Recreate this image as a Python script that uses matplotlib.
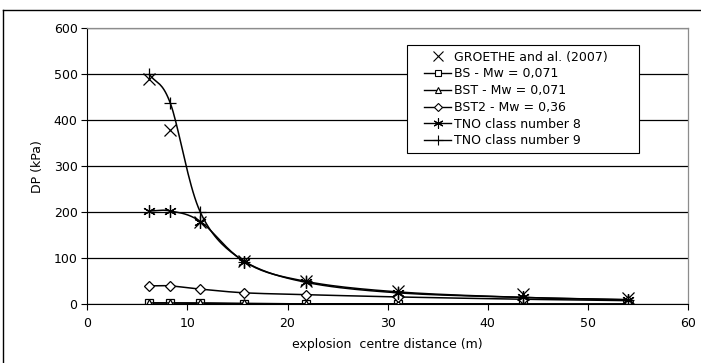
import numpy as np
import matplotlib
matplotlib.use("agg")
import matplotlib.pyplot as plt
from matplotlib.lines import Line2D
from matplotlib.legend_handler import HandlerLine2D

plt.rcParams['font.family'] = ['DejaVu Sans']

# explosion centre distance (m)
distance = [6.2, 8.3, 11.3, 15.7, 21.8, 31.0, 43.5, 54.0]

# DP (kPa)
groethe = [490, 378, 180, 95, 50, 28, 22, 13]
bs = [3, 3, 2, 1, 1, 1, 0.5, 0.5]
bst = [3, 3, 3, 2, 1, 1, 0.5, 0.5]
bst2 = [40, 40, 33, 25, 21, 16, 11, 8]
tno8 = [203, 203, 180, 93, 48, 25, 15, 10]
tno9 = [500, 437, 200, 93, 50, 27, 15, 10]


def smooth(x, y, n=20):
    # Catmull-Rom style curve through the points (like Excel smoothed lines)
    x = np.asarray(x, float)
    y = np.asarray(y, float)
    px = np.concatenate([[2 * x[0] - x[1]], x, [2 * x[-1] - x[-2]]])
    py = np.concatenate([[2 * y[0] - y[1]], y, [2 * y[-1] - y[-2]]])
    xs, ys = [], []
    t = np.linspace(0, 1, n)
    for i in range(1, len(px) - 2):
        for arr, out in ((px, xs), (py, ys)):
            p0, p1, p2, p3 = arr[i - 1], arr[i], arr[i + 1], arr[i + 2]
            out.extend(0.5 * ((2 * p1) + (-p0 + p2) * t
                              + (2 * p0 - 5 * p1 + 4 * p2 - p3) * t ** 2
                              + (-p0 + 3 * p1 - 3 * p2 + p3) * t ** 3))
    return xs, ys


fig = plt.figure(figsize=(7.01, 3.63), dpi=100)
ax = fig.add_axes([0.1245, 0.1617, 0.857, 0.760])

series = [
    (bs, 's', 5.5, 'BS - Mw = 0,071'),
    (bst, '^', 6, 'BST - Mw = 0,071'),
    (bst2, 'D', 5, 'BST2 - Mw = 0,36'),
    (tno8, (6, 2, 0), 9, 'TNO class number 8'),
    (tno9, '+', 9, 'TNO class number 9'),
]

ax.plot(distance, groethe, linestyle='none', marker='x', color='black',
        markersize=8, markeredgewidth=0.9)
ax.plot([], [], linestyle='none', marker='x', color='black',
        markersize=6.5, markeredgewidth=0.8, label='GROETHE and al. (2007)')
for y, m, ms, lab in series:
    sx, sy = smooth(distance, y)
    ax.plot(sx, sy, color='black', linewidth=1.1)
    ax.plot(distance, y, linestyle='none', marker=m, color='black',
            markerfacecolor='white', markersize=ms, markeredgewidth=0.9)
    ax.plot([], [], color='black', linewidth=1.0, marker=m,
            markerfacecolor='white', markersize=ms * 0.8, markeredgewidth=0.8,
            label=lab)

ax.set_xlim(0, 60)
ax.set_ylim(0, 600)
ax.set_xticks(range(0, 61, 10))
ax.set_yticks(range(0, 601, 100))
ax.yaxis.grid(True, color='black', linewidth=0.9)
ax.set_axisbelow(True)
for s in ('top', 'right'):
    ax.spines[s].set_color('#8c8c8c')
    ax.spines[s].set_linewidth(0.9)
ax.tick_params(labelsize=9, length=4, direction='out', pad=3)
ax.tick_params(axis='x', pad=5)
ax.set_xlabel('explosion  centre distance (m)', fontsize=9, labelpad=6)
ax.set_ylabel('DP (kPa)', fontsize=9, labelpad=7)

leg = ax.legend(loc='upper left', bbox_to_anchor=(0.532, 0.5587, 0.386, 0.3808),
                mode='expand', fontsize=9,
                handler_map={Line2D: HandlerLine2D(xpad=0.9)},
                frameon=True, fancybox=False, edgecolor='black', framealpha=1,
                handlelength=3.1, handletextpad=0.25, labelspacing=0.3,
                borderpad=0.45, borderaxespad=0)
leg.get_frame().set_linewidth(0.8)

# outer chart frame (only top and left edges are visible in the crop)
fig.add_artist(Line2D([3 / 701, 3 / 701], [0, 1 - 10 / 363],
                      transform=fig.transFigure, color='black', linewidth=1.0))
fig.add_artist(Line2D([3 / 701, 1], [1 - 10 / 363, 1 - 10 / 363],
                      transform=fig.transFigure, color='black', linewidth=1.0))

fig.savefig('out.png', dpi=100)
plt.close(fig)
